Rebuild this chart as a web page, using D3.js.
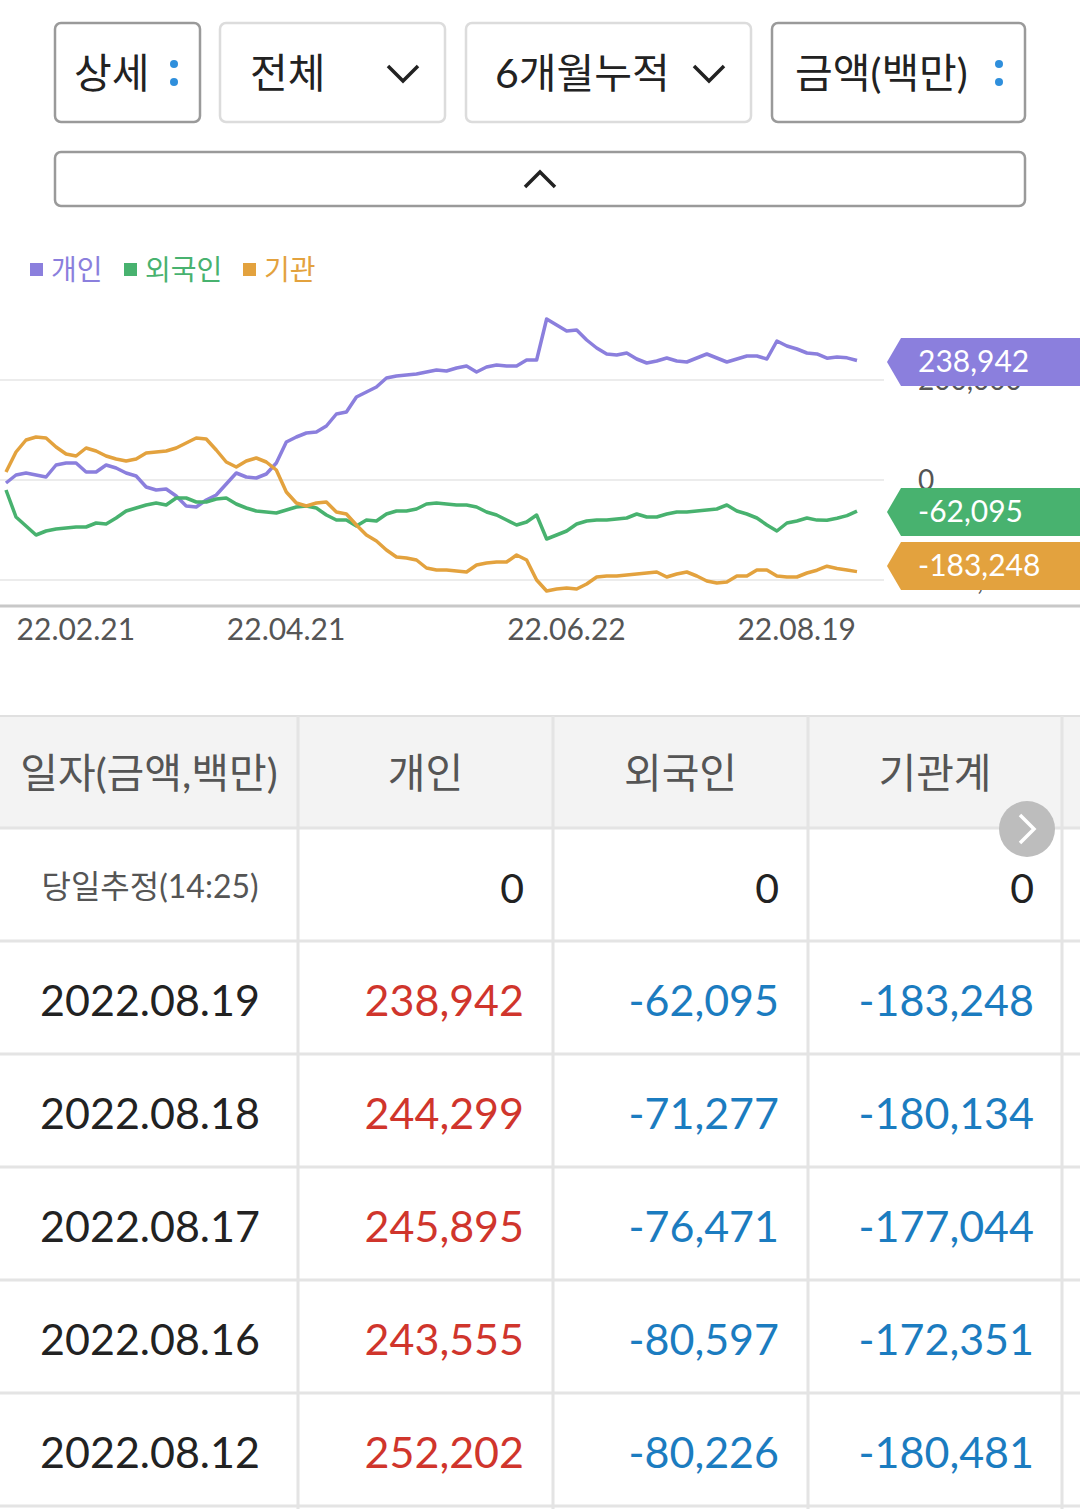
<!DOCTYPE html>
<html><head><meta charset="utf-8">
<script src="https://cdn.jsdelivr.net/npm/d3@7"></script>
<style>body{margin:0;background:#fff}svg{display:block;font-family:Lato,"Noto Sans CJK KR",sans-serif}</style>
</head><body><svg id="c" width="1080" height="1509"></svg>
<script>
const seriesNames=["개인","외국인","기관"];
const seriesColors=["#8b7fdd","#48b26f","#e3a23e"];
const indiv=[-6,10,14,10,6,30,34,34,16,16,30,24,14,8,-14,-20,-18,-32,-52,-54,-40,-30,-8,14,6,4,12,34,76,86,94,96,108,132,136,166,176,186,204,208,210,212,216,220,218,224,228,216,226,230,228,228,240,240,322,310,298,300,280,264,252,250,254,242,234,238,244,238,236,244,252,244,236,242,248,248,242,278,268,262,254,252.202,243.555,245.895,244.299,238.942].map(v=>v*1000);
const foreign=[-20,-74,-92,-110,-102,-98,-96,-94,-94,-86,-88,-76,-62,-56,-50,-46,-50,-36,-36,-44,-44,-38,-36,-48,-56,-62,-64,-66,-60,-54,-52,-56,-70,-80,-80,-92,-80,-82,-68,-62,-62,-58,-48,-46,-48,-50,-50,-54,-64,-70,-80,-90,-84,-70,-118,-110,-102,-88,-82,-80,-80,-78,-76,-68,-74,-74,-68,-64,-64,-62,-60,-58,-50,-62,-68,-76,-90,-102,-86,-82,-76,-80.226,-80.597,-76.471,-71.277,-62.095].map(v=>v*1000);
const inst=[16,56,80,86,84,66,52,48,64,58,48,42,38,42,54,56,58,64,74,84,82,60,36,26,38,44,36,20,-24,-46,-52,-46,-44,-64,-68,-90,-110,-122,-140,-154,-156,-160,-176,-180,-180,-182,-184,-170,-166,-164,-164,-150,-160,-200,-222,-218,-216,-218,-208,-194,-192,-192,-190,-188,-186,-184,-194,-188,-184,-192,-202,-206,-204,-192,-192,-180,-180,-192,-194,-194,-186,-180.481,-172.351,-177.044,-180.134,-183.248].map(v=>v*1000);
const xTickIdx=[13,34,62,85];
const xTickLabels=["22.02.21","22.04.21","22.06.22","22.08.19"];
const yTicks=[200000,0,-200000];
const tableHead=["일자(금액,백만)","개인","외국인","기관계"];
const todayRow=["당일추정(14:25)",0,0,0];
const tDates=["2022.08.19","2022.08.18","2022.08.17","2022.08.16","2022.08.12"];
const tIndiv=[238942,244299,245895,243555,252202];
const tForeign=[-62095,-71277,-76471,-80597,-80226];
const tInst=[-183248,-180134,-177044,-172351,-180481];
const controls=[["상세","dots"],["전체","down"],["6개월누적","down"],["금액(백만)","dots"]];

const svg=d3.select("#c");
const fmt=d3.formatLocale({decimal:".",thousands:",",grouping:[3],currency:["",""],minus:"-"}).format(",");
const boxes=[[55,200,true],[220,445,false],[466,751,false],[772,1025,true]];
controls.forEach((c,i)=>{
  const [x0,x1,dark]=boxes[i];
  svg.append("rect").attr("x",x0).attr("y",23).attr("width",x1-x0).attr("height",99).attr("rx",6)
    .attr("fill","#fff").attr("stroke",dark?"#9a9a9a":"#dcdcdc").attr("stroke-width",2.5);
  const tx = i==0?74: i==1?250: i==2?495: 795;
  svg.append("text").attr("x",tx).attr("y",88).attr("font-size",41).attr("fill","#222").text(c[0]);
  if(c[1]=="dots"){const dx=x1-26;
    svg.append("circle").attr("cx",dx).attr("cy",64).attr("r",4).attr("fill","#2f8fdc");
    svg.append("circle").attr("cx",dx).attr("cy",82).attr("r",4).attr("fill","#2f8fdc");
  } else {const dx=i==1?403:709;
    svg.append("path").attr("d",`M${dx-15},${66}L${dx},${81}L${dx+15},${66}`).attr("fill","none").attr("stroke","#222").attr("stroke-width",3.5);}
});
svg.append("rect").attr("x",55).attr("y",152).attr("width",970).attr("height",54).attr("rx",6).attr("fill","#fff").attr("stroke","#9a9a9a").attr("stroke-width",2.5);
svg.append("path").attr("d","M525,187L540,172L555,187").attr("fill","none").attr("stroke","#222").attr("stroke-width",3.5);

const lx=[30,124,243];
seriesNames.forEach((n,i)=>{
  svg.append("rect").attr("x",lx[i]).attr("y",263).attr("width",13).attr("height",13).attr("fill",seriesColors[i]);
  svg.append("text").attr("x",lx[i]+21).attr("y",280).attr("font-size",28).attr("fill",seriesColors[i]).text(n);
});

const x=d3.scaleLinear().domain([0,indiv.length-1]).range([6,857]);
const y=d3.scaleLinear().domain([-200000,200000]).range([580,380]);
yTicks.forEach(t=>{
  svg.append("line").attr("x1",0).attr("x2",884).attr("y1",y(t)).attr("y2",y(t)).attr("stroke","#ececec").attr("stroke-width",2);
  svg.append("text").attr("x",918).attr("y",y(t)+10).attr("font-size",28).attr("fill","#555").text(fmt(t));
});
svg.append("line").attr("x1",0).attr("x2",1080).attr("y1",606).attr("y2",606).attr("stroke","#c8c8c8").attr("stroke-width",3);
xTickIdx.forEach((ix,i)=>{
  svg.append("text").attr("x",x(ix)-1).attr("y",640).attr("text-anchor","end").attr("font-size",30).attr("fill","#555").text(xTickLabels[i]);
});
const line=d3.line().x((d,i)=>x(i)).y(d=>y(d));
[indiv,foreign,inst].forEach((s,i)=>{
  svg.append("path").datum(s).attr("d",line).attr("fill","none").attr("stroke",seriesColors[i]).attr("stroke-width",3.5).attr("stroke-linejoin","round");
});
const badgeY=[362,512,566];
[indiv,foreign,inst].forEach((s,i)=>{
  const cy=badgeY[i],h=48;
  svg.append("path").attr("d",`M887,${cy}L901,${cy-h/2}L1080,${cy-h/2}L1080,${cy+h/2}L901,${cy+h/2}Z`).attr("fill",seriesColors[i]);
  svg.append("text").attr("x",918).attr("y",cy+10).attr("font-size",30).attr("fill","#fff").text(fmt(s[s.length-1]));
});

const colX=[0,298,553,808,1062];
svg.append("rect").attr("x",0).attr("y",716).attr("width",1080).attr("height",112).attr("fill","#f3f3f3");
svg.append("line").attr("x1",0).attr("x2",1080).attr("y1",716).attr("y2",716).attr("stroke","#e0e0e0").attr("stroke-width",2);
tableHead.forEach((h,i)=>{
  svg.append("text").attr("x",(colX[i]+colX[i+1])/2).attr("y",788).attr("text-anchor","middle").attr("font-size",41).attr("fill","#555").text(h);
});
const rowsTop=[828,941,1054,1167,1280,1393,1506];
rowsTop.forEach(r=>svg.append("line").attr("x1",0).attr("x2",1080).attr("y1",r).attr("y2",r).attr("stroke","#e4e4e4").attr("stroke-width",3));
colX.slice(1).forEach(c=>svg.append("line").attr("x1",c).attr("x2",c).attr("y1",716).attr("y2",1509).attr("stroke","#e4e4e4").attr("stroke-width",3));
const rx=[524,779,1034];
svg.append("text").attr("x",150).attr("y",898).attr("text-anchor","middle").attr("font-size",32).attr("fill","#555").text(todayRow[0]);
todayRow.slice(1).forEach((v,i)=>svg.append("text").attr("x",rx[i]).attr("y",903).attr("text-anchor","end").attr("font-size",41).attr("fill","#222").text(v));
tDates.forEach((d,j)=>{
  const yy=rowsTop[j+1]+75;
  svg.append("text").attr("x",150).attr("y",yy).attr("text-anchor","middle").attr("font-size",43).attr("fill","#222").text(d);
  [tIndiv[j],tForeign[j],tInst[j]].forEach((v,i)=>{
    svg.append("text").attr("x",rx[i]).attr("y",yy).attr("text-anchor","end").attr("font-size",43).attr("fill",v>0?"#d0352c":"#1b7cc0").text(fmt(v));
  });
});
svg.append("circle").attr("cx",1027).attr("cy",829).attr("r",28).attr("fill","#bdbdbd");
svg.append("path").attr("d","M1020,815L1034,829L1020,843").attr("fill","none").attr("stroke","#fff").attr("stroke-width",3.5);
</script></body></html>
